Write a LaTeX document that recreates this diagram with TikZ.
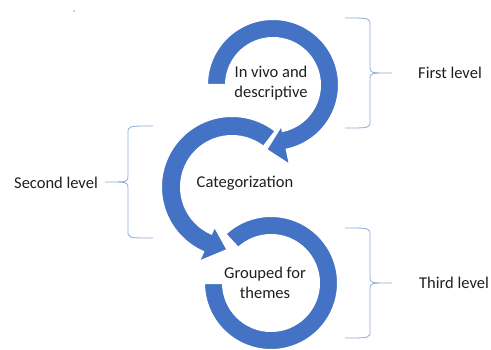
\documentclass[tikz,border=0pt]{standalone}
\usepackage{fontspec}
\setmainfont{Carlito}
\definecolor{ringblue}{HTML}{4472C4}
\definecolor{bracecol}{HTML}{8EA9DB}
\definecolor{txt}{HTML}{1F1F1F}
\begin{document}
\begin{tikzpicture}[x=1pt,y=1pt,
  ring/.style={fill=ringblue, draw=white, line width=2pt, line join=miter},
  brace/.style={draw=bracecol, line width=0.8pt},
  lbl/.style={text=txt, font=\fontsize{16.5}{20}\selectfont, align=center, inner sep=0pt}]
\useasboundingbox (0,0) rectangle (491,349);

% stray dot
\fill[gray!70] (74,338) circle (0.8);

% third level ring (no head)
\begin{scope}[shift={(271,66)}]
  \path[ring] (133:67) arc[start angle=133,end angle=-180,radius=67]
    -- (180:48) arc[start angle=-180,end angle=133,radius=48] -- cycle;
\end{scope}

% second level ring, counter-clockwise with head
\begin{scope}[shift={(232,162)}]
  \path[ring] (52:71) arc[start angle=52,end angle=246,radius=71]
    -- (246:82) -- (266:63) -- (246:43) -- (246:51)
    arc[start angle=246,end angle=52,radius=51] -- cycle;
\end{scope}

% first level ring, clockwise with head
\begin{scope}[shift={(273,264)}]
  \path[ring] (180:66) arc[start angle=180,end angle=-78,radius=66]
    -- (-78:82) -- (-96:65) -- (-78:41) -- (-78:47)
    arc[start angle=-78,end angle=180,radius=47] -- cycle;
\end{scope}

% ring labels
\node[lbl] (invivo) at (271,266) {In vivo and\\descriptive};
\node[lbl] (categ) at (245,166) {Categorization};
\node[lbl] (grouped) at (265,66) {Grouped for\\themes};

% level labels
\node[lbl] (first) at (450,276) {First level};
\node[lbl] (second) at (56,166) {Second level};
\node[lbl] (third) at (454,66) {Third level};

% braces
\draw[brace] (345,331) .. controls (370,331) .. (370,324) -- (370,282)
  .. controls (370,276) .. (392,276) .. controls (370,276) .. (370,270)
  -- (370,228) .. controls (370,221) .. (345,221);
\draw[brace] (153,223) .. controls (128,223) .. (128,216) -- (128,173)
  .. controls (128,167) .. (105,167) .. controls (128,167) .. (128,161)
  -- (128,118) .. controls (128,111) .. (153,111);
\draw[brace] (345,121) .. controls (370,121) .. (370,114) -- (370,72)
  .. controls (370,66) .. (392,66) .. controls (370,66) .. (370,60)
  -- (370,18) .. controls (370,11) .. (345,11);
\end{tikzpicture}
\end{document}
